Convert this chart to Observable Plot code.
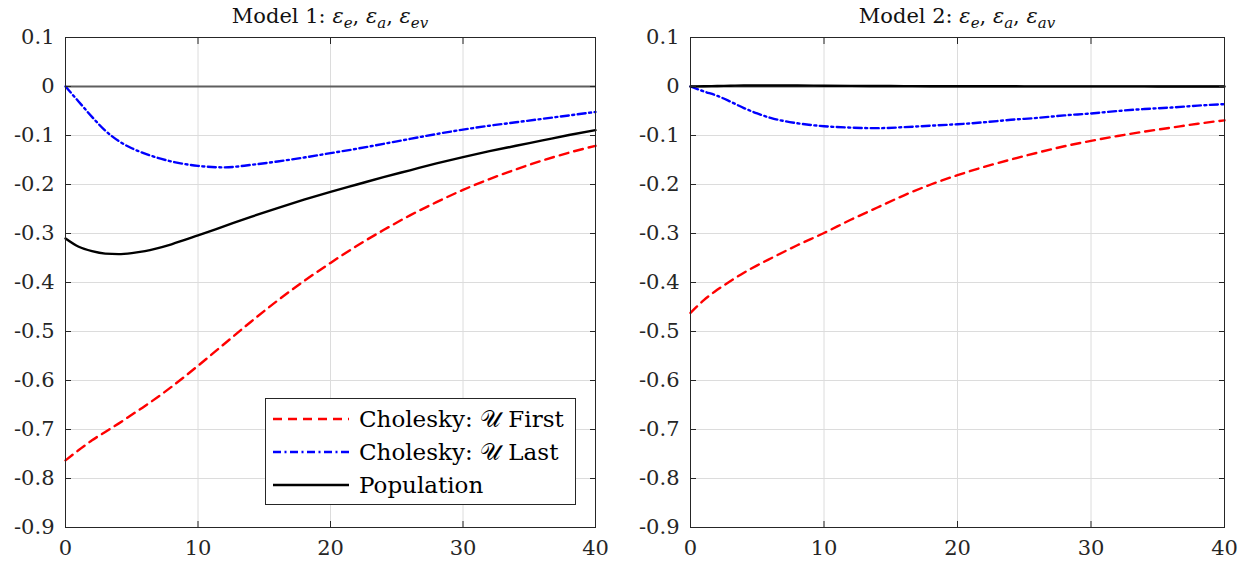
<!DOCTYPE html>
<html><head><meta charset="utf-8">
<script src="https://cdn.jsdelivr.net/npm/d3@7"></script>
<script src="https://cdn.jsdelivr.net/npm/@observablehq/plot@0.6"></script>
<style>
body{margin:0;background:#fff;}
#wrap{position:relative;width:1251px;height:570px;font-family:"DejaVu Serif",serif;color:#262626;overflow:hidden;}
.panel{position:absolute;top:0;}
.title{position:absolute;top:4px;font-size:21px;white-space:nowrap;transform:translateX(-50%);color:#111;}
.title sub{font-size:15px;font-style:italic;vertical-align:-5px;line-height:0;}
.legend{position:absolute;left:265px;top:398px;width:309px;height:105px;border:1px solid #262626;background:#fff;color:#000;font-size:23px;}
.row{position:absolute;left:6px;height:30px;display:flex;align-items:center;white-space:nowrap;}
.row svg{margin-right:9px;}
.cal{font-style:normal;}
</style></head>
<body><div id="wrap"></div>
<script>
// ---- data ----
const steps = [0,1,2,3,4,5,6,8,10,12,14,16,18,20,22,24,26,28,30,32,34,36,38,40];
const m1First = [-0.763,-0.742,-0.722,-0.705,-0.688,-0.670,-0.652,-0.613,-0.570,-0.525,-0.480,-0.437,-0.397,-0.360,-0.325,-0.293,-0.263,-0.236,-0.211,-0.189,-0.169,-0.151,-0.135,-0.121];
const m1Last  = [0,-0.031,-0.062,-0.090,-0.111,-0.126,-0.137,-0.153,-0.162,-0.165,-0.160,-0.153,-0.145,-0.136,-0.127,-0.117,-0.107,-0.097,-0.088,-0.080,-0.073,-0.066,-0.059,-0.052];
const m1Pop   = [-0.310,-0.327,-0.336,-0.341,-0.342,-0.340,-0.336,-0.322,-0.304,-0.285,-0.266,-0.248,-0.231,-0.215,-0.200,-0.185,-0.171,-0.157,-0.144,-0.132,-0.121,-0.110,-0.099,-0.089];
const m2First = [-0.462,-0.436,-0.415,-0.397,-0.380,-0.365,-0.351,-0.324,-0.299,-0.272,-0.247,-0.222,-0.200,-0.181,-0.164,-0.149,-0.135,-0.122,-0.111,-0.101,-0.092,-0.084,-0.076,-0.069];
const m2Last  = [0,-0.010,-0.019,-0.031,-0.044,-0.055,-0.064,-0.075,-0.081,-0.084,-0.085,-0.083,-0.080,-0.077,-0.073,-0.068,-0.064,-0.059,-0.055,-0.050,-0.046,-0.043,-0.039,-0.036];
const m2Pop   = [0,0.0005,0.001,0.0015,0.002,0.002,0.002,0.002,0.0015,0.0012,0.001,0.0008,0.0006,0.0005,0.0004,0.0004,0.0003,0.0003,0.0002,0.0002,0.0002,0.0001,0.0001,0.0001];
const xTicks = [0,10,20,30,40];
const yTicks = [-0.9,-0.8,-0.7,-0.6,-0.5,-0.4,-0.3,-0.2,-0.1,0,0.1];
const seriesNames = ["Cholesky: \u{1D4B0} First","Cholesky: \u{1D4B0} Last","Population"];
const titles = [["1","e","a","ev"],["2","e","a","av"]];

const styles = [
  {stroke:"#ff0000", dash:"9,6"},
  {stroke:"#0000ff", dash:"8,3.5,2,3.5"},
  {stroke:"#000000", dash:null}
];

function toRows(vals){ return steps.map((t,i)=>({t, v:vals[i]})); }

function panel(series, width, marginRight){
  const lineMarks = series.map((vals,i)=>Plot.line(toRows(vals),{
    x:"t", y:"v", stroke:styles[i].stroke, strokeWidth:2.4,
    strokeDasharray:styles[i].dash, curve:"monotone-x"
  }));
  return Plot.plot({
    width, height:570, marginTop:37, marginBottom:43, marginLeft:65, marginRight,
    style:{fontFamily:"'DejaVu Serif', serif", fontSize:"21px", color:"#262626", background:"transparent", overflow:"visible"},
    x:{domain:[0,40]},
    y:{domain:[-0.9,0.1]},
    marks:[
      Plot.gridX(xTicks,{stroke:"#dcdcdc", strokeOpacity:1, strokeWidth:1}),
      Plot.gridY(yTicks,{stroke:"#dcdcdc", strokeOpacity:1, strokeWidth:1}),
      Plot.ruleY([0],{stroke:"#5f5f5f", strokeWidth:2}),
      ...lineMarks,
      Plot.frame({stroke:"#262626", strokeWidth:1}),
      Plot.axisX(xTicks,{anchor:"bottom", tickSize:-6, tickPadding:19, label:null, tickFormat:d=>String(d), stroke:"#262626", fill:"#262626"}),
      Plot.axisX(xTicks,{anchor:"top", tickSize:-6, label:null, tickFormat:()=>"", stroke:"#262626"}),
      Plot.axisY(yTicks,{anchor:"left", tickSize:-6, tickPadding:17, label:null, tickFormat:d=>String(d), stroke:"#262626", fill:"#262626"}),
      Plot.axisY(yTicks,{anchor:"right", tickSize:-6, label:null, tickFormat:()=>"", stroke:"#262626"})
    ]
  });
}

const wrap = document.getElementById("wrap");
const p1 = panel([m1First,m1Last,m1Pop], 625, 30);
p1.classList.add("panel"); p1.style.left="0px";
const p2 = panel([m2First,m2Last,m2Pop], 626, 27);
p2.classList.add("panel"); p2.style.left="625px";
wrap.appendChild(p1); wrap.appendChild(p2);

const centers = [330, 957];
titles.forEach((t,i)=>{
  const d = document.createElement("div");
  d.className = "title";
  d.style.left = centers[i]+"px";
  d.innerHTML = `Model ${t[0]}: <i>ε</i><sub>${t[1]}</sub>, <i>ε</i><sub>${t[2]}</sub>, <i>ε</i><sub>${t[3]}</sub>`;
  wrap.appendChild(d);
});

const lg = document.createElement("div");
lg.className = "legend";
seriesNames.forEach((name,i)=>{
  const r = document.createElement("div");
  r.className = "row";
  r.style.top = (5 + i*33)+"px";
  const dash = styles[i].dash ? `stroke-dasharray="${styles[i].dash}"` : "";
  const parts = name.split("\u{1D4B0}");
  const label = parts.length>1 ? `${parts[0]}<span class="cal">\u{1D4B0}</span>&nbsp;${parts[1].trim()}` : name;
  r.innerHTML = `<svg width="78" height="10"><line x1="1" y1="5" x2="77" y2="5" stroke="${styles[i].stroke}" stroke-width="2.5" ${dash}/></svg><span>${label}</span>`;
  lg.appendChild(r);
});
wrap.appendChild(lg);
</script></body></html>
